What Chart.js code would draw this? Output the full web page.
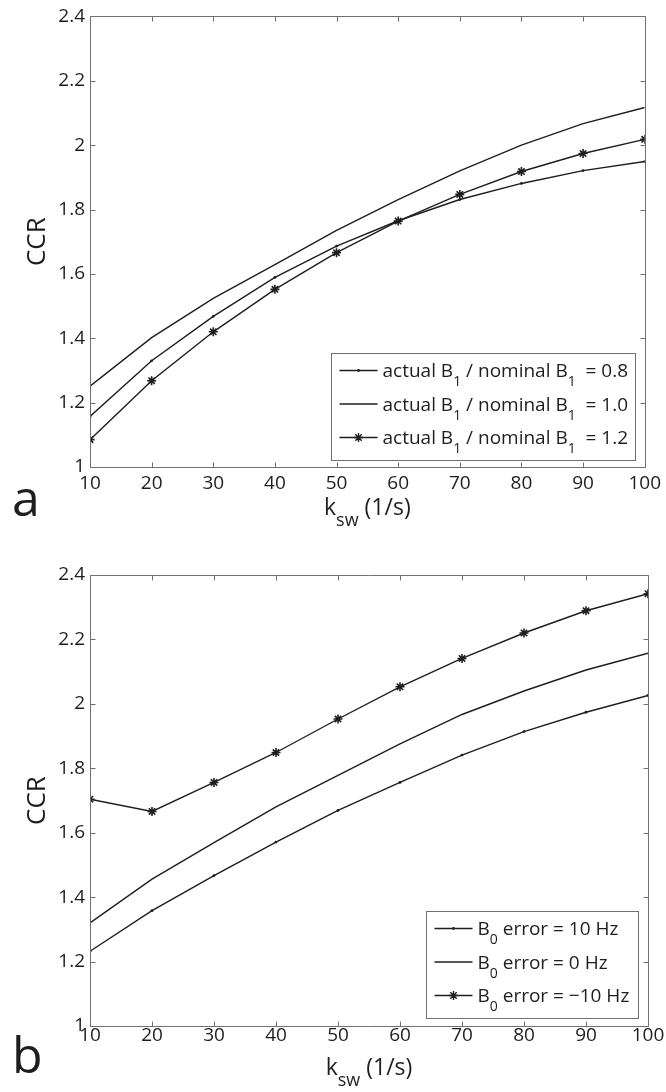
<!DOCTYPE html>
<html>
<head>
<meta charset="utf-8">
<title>CCR vs k_sw</title>
<script src="https://cdn.jsdelivr.net/npm/chart.js@4.4.1/dist/chart.umd.min.js"></script>
<style>
  body { margin: 0; background: #fff; }
  .panel { position: absolute; left: 0; width: 666px; }
  #panelA { top: 0; height: 540px; }
  #panelB { top: 540px; height: 552px; }
</style>
</head>
<body>
<div class="panel" id="panelA"><canvas id="chartA" width="666" height="540"></canvas></div>
<div class="panel" id="panelB"><canvas id="chartB" width="666" height="552"></canvas></div>
<script>
// ? Data
// ? ==================================
const ksw = [10, 20, 30, 40, 50, 60, 70, 80, 90, 100];

// panel a : actual B1 / nominal B1
const ccrB1_08 = [1.157, 1.330, 1.468, 1.589, 1.686, 1.765, 1.831, 1.881, 1.921, 1.949];
const ccrB1_10 = [1.251, 1.402, 1.524, 1.629, 1.735, 1.831, 1.920, 2.000, 2.067, 2.117];
const ccrB1_12 = [1.085, 1.268, 1.420, 1.552, 1.666, 1.764, 1.847, 1.918, 1.974, 2.018];

// panel b : B0 error
const ccrB0_p10 = [1.232, 1.358, 1.467, 1.571, 1.669, 1.756, 1.841, 1.914, 1.974, 2.026];
const ccrB0_0 = [1.320, 1.456, 1.569, 1.680, 1.778, 1.876, 1.967, 2.040, 2.105, 2.157];
const ccrB0_m10 = [1.704, 1.666, 1.756, 1.849, 1.953, 2.053, 2.141, 2.220, 2.289, 2.342];

const xTicks = [10, 20, 30, 40, 50, 60, 70, 80, 90, 100];
const yTicks = [1, 1.2, 1.4, 1.6, 1.8, 2, 2.2, 2.4];

const ratioLabels = ["0.8", "1.0", "1.2"];
const errorLabels = ["10", "0", "\u221210"];
const markers = ["dot", "none", "star"];
// ? ==================================

const FONT = "'Open Sans', 'DejaVu Sans', sans-serif";
const INK = "#1e1e1e";
const AXIS = "#707070";

function makeDataset(values, marker) {
  return {
    data: ksw.map((x, i) => ({ x: x, y: values[i] })),
    borderColor: INK,
    borderWidth: 1.4,
    tension: 0,
    fill: false,
    pointStyle: marker === "star" ? "star" : "circle",
    pointRadius: marker === "star" ? 4.5 : marker === "dot" ? 1.4 : 0,
    pointBorderWidth: marker === "star" ? 1.6 : 0,
    pointBackgroundColor: INK,
    pointBorderColor: INK,
  };
}

// text with subscripts, parts = [{t, sub}]
function richWidth(ctx, parts, size, subSize) {
  let w = 0;
  parts.forEach((p) => {
    ctx.font = (p.sub ? subSize : size) + "px " + FONT;
    w += ctx.measureText(p.t).width;
  });
  return w;
}
function drawRich(ctx, parts, x, y, size, subSize, subDrop) {
  ctx.textAlign = "left";
  ctx.textBaseline = "alphabetic";
  parts.forEach((p) => {
    ctx.font = (p.sub ? subSize : size) + "px " + FONT;
    ctx.fillText(p.t, x, p.sub ? y + subDrop : y);
    x += ctx.measureText(p.t).width;
  });
}

function drawMarker(ctx, marker, x, y) {
  if (marker === "none") return;
  Chart.helpers.drawPoint(
    ctx,
    {
      pointStyle: marker === "star" ? "star" : "circle",
      radius: marker === "star" ? 4.5 : 1.4,
      borderWidth: marker === "star" ? 1.6 : 0,
      rotation: 0,
    },
    x,
    y
  );
}

// & Matlab style frame: box, inner ticks, titles, legend
// & ============================
const framePlugin = {
  id: "frame",
  afterDraw(chart, args, opts) {
    const ctx = chart.ctx;
    const a = chart.chartArea;
    const xs = chart.scales.x;
    const ys = chart.scales.y;
    ctx.save();

    // box + ticks
    ctx.strokeStyle = AXIS;
    ctx.lineWidth = 1;
    const L = Math.round(a.left) + 0.5, R = Math.round(a.right) + 0.5;
    const T = Math.round(a.top) + 0.5, B = Math.round(a.bottom) + 0.5;
    ctx.beginPath();
    ctx.rect(L, T, R - L, B - T);
    xTicks.forEach((v) => {
      const px = Math.round(xs.getPixelForValue(v)) + 0.5;
      ctx.moveTo(px, B); ctx.lineTo(px, B - 5);
      ctx.moveTo(px, T); ctx.lineTo(px, T + 5);
    });
    yTicks.forEach((v) => {
      const py = Math.round(ys.getPixelForValue(v)) + 0.5;
      ctx.moveTo(L, py); ctx.lineTo(L + 5, py);
      ctx.moveTo(R, py); ctx.lineTo(R - 5, py);
    });
    ctx.stroke();

    ctx.fillStyle = INK;

    // y title
    ctx.save();
    ctx.translate(opts.yTitleX, (a.top + a.bottom) / 2);
    ctx.rotate(-Math.PI / 2);
    ctx.font = "26px " + FONT;
    ctx.textAlign = "center";
    ctx.textBaseline = "middle";
    ctx.fillText("CCR", 0, 0);
    ctx.restore();

    // x title k_sw (1/s)
    const xt = [{ t: "k" }, { t: "sw", sub: true }, { t: " (1/s)" }];
    const w = richWidth(ctx, xt, 23, 18);
    drawRich(ctx, xt, (a.left + a.right) / 2 - w / 2, a.bottom + opts.xTitleDy, 23, 18, 11);

    // panel letter
    ctx.font = "50px " + FONT;
    ctx.textAlign = "left";
    ctx.textBaseline = "alphabetic";
    ctx.fillText(opts.letter, 12, opts.letterY);

    // legend
    const lw = opts.legendW, lh = 107;
    const lx = Math.round(a.right - 10 - lw) + 0.5;
    const ly = Math.round(a.bottom - opts.legendBottom - lh) + 0.5;
    ctx.fillStyle = "#fff";
    ctx.fillRect(lx, ly, lw, lh);
    ctx.strokeStyle = AXIS;
    ctx.strokeRect(lx, ly, lw, lh);
    ctx.fillStyle = INK;
    ctx.strokeStyle = INK;
    opts.rows.forEach((parts, i) => {
      const ry = ly + 17 + i * 33.5;
      ctx.lineWidth = 1.4;
      ctx.beginPath();
      ctx.moveTo(lx + 8, ry);
      ctx.lineTo(lx + 46, ry);
      ctx.stroke();
      drawMarker(ctx, markers[i], lx + 27, ry);
      drawRich(ctx, parts, lx + 51, ry + 6.5, 19, 14, 9);
    });

    ctx.restore();
  },
};
// & ============================

function makeChart(canvasId, series, cfg) {
  return new Chart(document.getElementById(canvasId), {
    type: "line",
    data: {
      datasets: series.map((s, i) => makeDataset(s, markers[i])),
    },
    options: {
      responsive: false,
      animation: false,
      events: [],
      layout: { padding: { top: cfg.top, right: 18, left: 0, bottom: 0 } },
      plugins: {
        legend: { display: false },
        tooltip: { enabled: false },
        frame: cfg.frame,
      },
      scales: {
        x: {
          type: "linear",
          min: 10,
          max: 100,
          afterBuildTicks: (s) => { s.ticks = xTicks.map((v) => ({ value: v })); },
          afterFit: (s) => { s.height = cfg.xAxisH; },
          grid: { display: false, drawTicks: false },
          border: { display: false },
          ticks: {
            font: { family: FONT, size: 19 },
            color: INK,
            padding: cfg.xTickPad,
            maxRotation: 0,
            autoSkip: false,
            callback: (v) => String(v),
          },
        },
        y: {
          min: 1,
          max: 2.4,
          afterBuildTicks: (s) => { s.ticks = yTicks.map((v) => ({ value: v })); },
          afterFit: (s) => { s.width = 90; },
          grid: { display: false, drawTicks: false },
          border: { display: false },
          ticks: {
            font: { family: FONT, size: 19 },
            color: INK,
            padding: 5,
            autoSkip: false,
            callback: (v) => String(v),
          },
        },
      },
    },
    plugins: [framePlugin],
  });
}

makeChart("chartA", [ccrB1_08, ccrB1_10, ccrB1_12], {
  top: 15,
  xAxisH: 73,
  xTickPad: 5,
  frame: {
    letter: "a",
    letterY: 516,
    yTitleX: 38,
    xTitleDy: 48,
    legendW: 304,
    legendBottom: 7,
    rows: ratioLabels.map((r) => [
      { t: "actual B" }, { t: "1", sub: true },
      { t: " / nominal B" }, { t: "1", sub: true },
      { t: "  = " + r },
    ]),
  },
});

makeChart("chartB", [ccrB0_p10, ccrB0_0, ccrB0_m10], {
  top: 35,
  xAxisH: 66,
  xTickPad: -2,
  frame: {
    letter: "b",
    letterY: 533,
    yTitleX: 38,
    xTitleDy: 49,
    legendW: 212,
    legendBottom: 8,
    rows: errorLabels.map((e) => [
      { t: "B" }, { t: "0", sub: true },
      { t: " error = " + e + " Hz" },
    ]),
  },
});
</script>
</body>
</html>
